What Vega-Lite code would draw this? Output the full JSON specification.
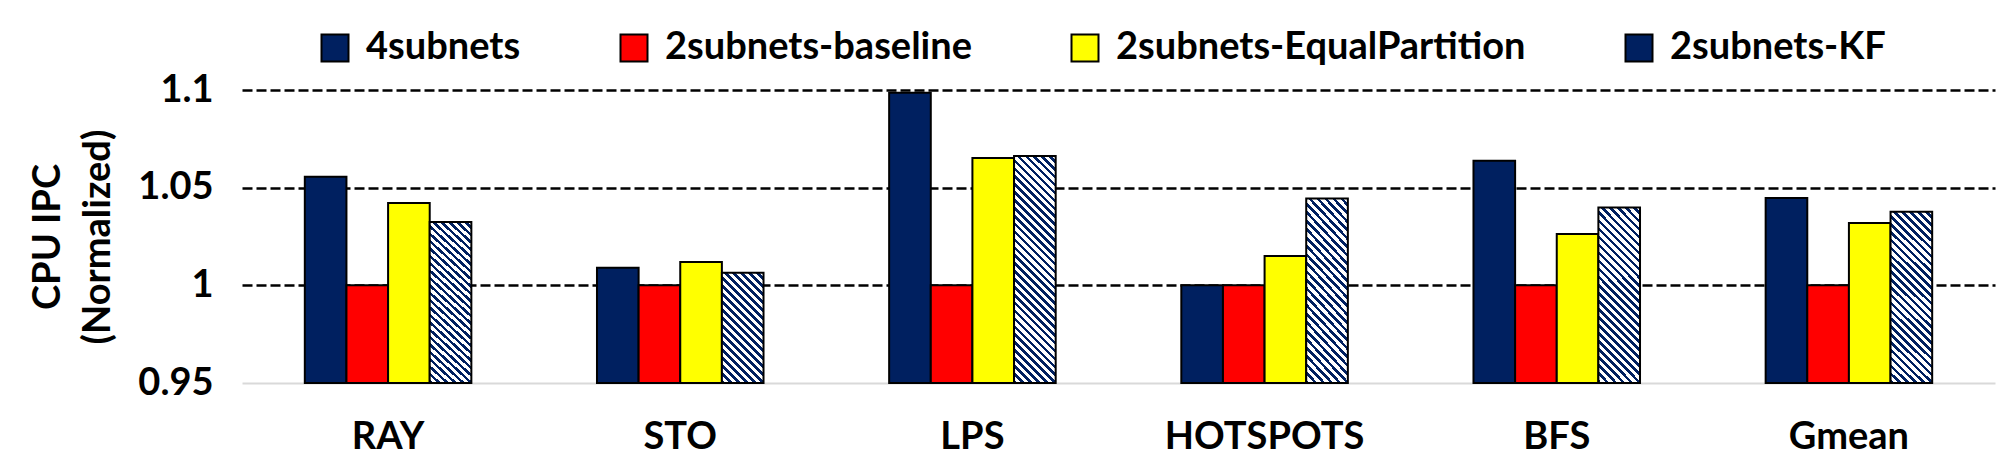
{
  "$schema": "https://vega.github.io/schema/vega-lite/v6.json",
  "width": 1753,
  "height": 293,
  "autosize": "none",
  "padding": {"left": 242, "top": 90, "right": 7, "bottom": 93},
  "background": "white",
  "config": {"font": "Lato", "view": {"stroke": null}},
  "data": {"values": [
    {"benchmark": "RAY", "series": "4subnets", "ipc": 1.0556},
    {"benchmark": "RAY", "series": "2subnets-baseline", "ipc": 1.0},
    {"benchmark": "RAY", "series": "2subnets-EqualPartition", "ipc": 1.0421},
    {"benchmark": "RAY", "series": "2subnets-KF", "ipc": 1.0324},
    {"benchmark": "STO", "series": "4subnets", "ipc": 1.009},
    {"benchmark": "STO", "series": "2subnets-baseline", "ipc": 1.0},
    {"benchmark": "STO", "series": "2subnets-EqualPartition", "ipc": 1.0119},
    {"benchmark": "STO", "series": "2subnets-KF", "ipc": 1.0065},
    {"benchmark": "LPS", "series": "4subnets", "ipc": 1.0986},
    {"benchmark": "LPS", "series": "2subnets-baseline", "ipc": 1.0},
    {"benchmark": "LPS", "series": "2subnets-EqualPartition", "ipc": 1.0652},
    {"benchmark": "LPS", "series": "2subnets-KF", "ipc": 1.0662},
    {"benchmark": "HOTSPOTS", "series": "4subnets", "ipc": 1.0},
    {"benchmark": "HOTSPOTS", "series": "2subnets-baseline", "ipc": 1.0},
    {"benchmark": "HOTSPOTS", "series": "2subnets-EqualPartition", "ipc": 1.015},
    {"benchmark": "HOTSPOTS", "series": "2subnets-KF", "ipc": 1.0444},
    {"benchmark": "BFS", "series": "4subnets", "ipc": 1.0638},
    {"benchmark": "BFS", "series": "2subnets-baseline", "ipc": 1.0},
    {"benchmark": "BFS", "series": "2subnets-EqualPartition", "ipc": 1.0263},
    {"benchmark": "BFS", "series": "2subnets-KF", "ipc": 1.0398},
    {"benchmark": "Gmean", "series": "4subnets", "ipc": 1.0447},
    {"benchmark": "Gmean", "series": "2subnets-baseline", "ipc": 1.0},
    {"benchmark": "Gmean", "series": "2subnets-EqualPartition", "ipc": 1.0319},
    {"benchmark": "Gmean", "series": "2subnets-KF", "ipc": 1.0377}
  ]},
  "mark": {"type": "bar", "stroke": "black", "strokeWidth": 2},
  "encoding": {
    "x": {
      "field": "benchmark", "type": "nominal",
      "scale": {"domain": ["RAY", "STO", "LPS", "HOTSPOTS", "BFS", "Gmean"], "paddingInner": 0.43, "paddingOuter": 0.215},
      "axis": {"title": null, "ticks": false, "domainColor": "#d9d9d9", "domainWidth": 2, "labelFontSize": 38, "labelFontWeight": "bold", "labelColor": "black", "labelPadding": 35, "labelAngle": 0, "labelLimit": 600}
    },
    "xOffset": {
      "field": "series", "type": "nominal",
      "scale": {"domain": ["4subnets", "2subnets-baseline", "2subnets-EqualPartition", "2subnets-KF"], "paddingInner": 0, "paddingOuter": 0}
    },
    "y": {
      "field": "ipc", "type": "quantitative",
      "scale": {"domain": [0.95, 1.1], "zero": false},
      "axis": {
        "values": [0.95, 1, 1.05, 1.1], "format": "~g", "domain": false, "ticks": false, "grid": true,
        "gridColor": {"condition": {"test": "datum.value < 0.96", "value": "transparent"}, "value": "black"},
        "gridDash": [10, 4], "gridWidth": 2.5, "labelFlush": false,
        "labelFontSize": 38, "labelFontWeight": "bold", "labelColor": "black", "labelPadding": 29,
        "title": ["CPU IPC", "(Normalized)"], "titleFontSize": 38, "titleFontWeight": "bold", "titleColor": "black", "titlePadding": 20, "titleLineHeight": 50
      }
    },
    "y2": {"datum": 0.95},
    "fill": {
      "condition": [
        {"test": "datum.series === '2subnets-KF' && datum.ipc < 1.02", "value": {"gradient": "linear", "x1": 0, "y1": 1, "x2": 0.456, "y2": -0.206, "stops": [
          {"offset": 0, "color": "#002060"}, {"offset": 0.0237, "color": "#002060"}, {"offset": 0.0237, "color": "#fff"}, {"offset": 0.0526, "color": "#fff"},
          {"offset": 0.0526, "color": "#002060"}, {"offset": 0.0763, "color": "#002060"}, {"offset": 0.0763, "color": "#fff"}, {"offset": 0.1053, "color": "#fff"},
          {"offset": 0.1053, "color": "#002060"}, {"offset": 0.1289, "color": "#002060"}, {"offset": 0.1289, "color": "#fff"}, {"offset": 0.1579, "color": "#fff"},
          {"offset": 0.1579, "color": "#002060"}, {"offset": 0.1816, "color": "#002060"}, {"offset": 0.1816, "color": "#fff"}, {"offset": 0.2105, "color": "#fff"},
          {"offset": 0.2105, "color": "#002060"}, {"offset": 0.2342, "color": "#002060"}, {"offset": 0.2342, "color": "#fff"}, {"offset": 0.2632, "color": "#fff"},
          {"offset": 0.2632, "color": "#002060"}, {"offset": 0.2868, "color": "#002060"}, {"offset": 0.2868, "color": "#fff"}, {"offset": 0.3158, "color": "#fff"},
          {"offset": 0.3158, "color": "#002060"}, {"offset": 0.3395, "color": "#002060"}, {"offset": 0.3395, "color": "#fff"}, {"offset": 0.3684, "color": "#fff"},
          {"offset": 0.3684, "color": "#002060"}, {"offset": 0.3921, "color": "#002060"}, {"offset": 0.3921, "color": "#fff"}, {"offset": 0.4211, "color": "#fff"},
          {"offset": 0.4211, "color": "#002060"}, {"offset": 0.4447, "color": "#002060"}, {"offset": 0.4447, "color": "#fff"}, {"offset": 0.4737, "color": "#fff"},
          {"offset": 0.4737, "color": "#002060"}, {"offset": 0.4974, "color": "#002060"}, {"offset": 0.4974, "color": "#fff"}, {"offset": 0.5263, "color": "#fff"},
          {"offset": 0.5263, "color": "#002060"}, {"offset": 0.55, "color": "#002060"}, {"offset": 0.55, "color": "#fff"}, {"offset": 0.5789, "color": "#fff"},
          {"offset": 0.5789, "color": "#002060"}, {"offset": 0.6026, "color": "#002060"}, {"offset": 0.6026, "color": "#fff"}, {"offset": 0.6316, "color": "#fff"},
          {"offset": 0.6316, "color": "#002060"}, {"offset": 0.6553, "color": "#002060"}, {"offset": 0.6553, "color": "#fff"}, {"offset": 0.6842, "color": "#fff"},
          {"offset": 0.6842, "color": "#002060"}, {"offset": 0.7079, "color": "#002060"}, {"offset": 0.7079, "color": "#fff"}, {"offset": 0.7368, "color": "#fff"},
          {"offset": 0.7368, "color": "#002060"}, {"offset": 0.7605, "color": "#002060"}, {"offset": 0.7605, "color": "#fff"}, {"offset": 0.7895, "color": "#fff"},
          {"offset": 0.7895, "color": "#002060"}, {"offset": 0.8132, "color": "#002060"}, {"offset": 0.8132, "color": "#fff"}, {"offset": 0.8421, "color": "#fff"},
          {"offset": 0.8421, "color": "#002060"}, {"offset": 0.8658, "color": "#002060"}, {"offset": 0.8658, "color": "#fff"}, {"offset": 0.8947, "color": "#fff"},
          {"offset": 0.8947, "color": "#002060"}, {"offset": 0.9184, "color": "#002060"}, {"offset": 0.9184, "color": "#fff"}, {"offset": 0.9474, "color": "#fff"},
          {"offset": 0.9474, "color": "#002060"}, {"offset": 0.9711, "color": "#002060"}, {"offset": 0.9711, "color": "#fff"}, {"offset": 1, "color": "#fff"}
        ]}},
        {"test": "datum.series === '2subnets-KF' && datum.ipc > 1.06", "value": {"gradient": "linear", "x1": 0, "y1": 1, "x2": 0.2098, "y2": -0.145, "stops": [
          {"offset": 0, "color": "#002060"}, {"offset": 0.0132, "color": "#002060"}, {"offset": 0.0132, "color": "#fff"}, {"offset": 0.0294, "color": "#fff"},
          {"offset": 0.0294, "color": "#002060"}, {"offset": 0.0426, "color": "#002060"}, {"offset": 0.0426, "color": "#fff"}, {"offset": 0.0588, "color": "#fff"},
          {"offset": 0.0588, "color": "#002060"}, {"offset": 0.072, "color": "#002060"}, {"offset": 0.072, "color": "#fff"}, {"offset": 0.0882, "color": "#fff"},
          {"offset": 0.0882, "color": "#002060"}, {"offset": 0.1014, "color": "#002060"}, {"offset": 0.1014, "color": "#fff"}, {"offset": 0.1176, "color": "#fff"},
          {"offset": 0.1176, "color": "#002060"}, {"offset": 0.1308, "color": "#002060"}, {"offset": 0.1308, "color": "#fff"}, {"offset": 0.1471, "color": "#fff"},
          {"offset": 0.1471, "color": "#002060"}, {"offset": 0.1603, "color": "#002060"}, {"offset": 0.1603, "color": "#fff"}, {"offset": 0.1765, "color": "#fff"},
          {"offset": 0.1765, "color": "#002060"}, {"offset": 0.1897, "color": "#002060"}, {"offset": 0.1897, "color": "#fff"}, {"offset": 0.2059, "color": "#fff"},
          {"offset": 0.2059, "color": "#002060"}, {"offset": 0.2191, "color": "#002060"}, {"offset": 0.2191, "color": "#fff"}, {"offset": 0.2353, "color": "#fff"},
          {"offset": 0.2353, "color": "#002060"}, {"offset": 0.2485, "color": "#002060"}, {"offset": 0.2485, "color": "#fff"}, {"offset": 0.2647, "color": "#fff"},
          {"offset": 0.2647, "color": "#002060"}, {"offset": 0.2779, "color": "#002060"}, {"offset": 0.2779, "color": "#fff"}, {"offset": 0.2941, "color": "#fff"},
          {"offset": 0.2941, "color": "#002060"}, {"offset": 0.3073, "color": "#002060"}, {"offset": 0.3073, "color": "#fff"}, {"offset": 0.3235, "color": "#fff"},
          {"offset": 0.3235, "color": "#002060"}, {"offset": 0.3367, "color": "#002060"}, {"offset": 0.3367, "color": "#fff"}, {"offset": 0.3529, "color": "#fff"},
          {"offset": 0.3529, "color": "#002060"}, {"offset": 0.3661, "color": "#002060"}, {"offset": 0.3661, "color": "#fff"}, {"offset": 0.3824, "color": "#fff"},
          {"offset": 0.3824, "color": "#002060"}, {"offset": 0.3956, "color": "#002060"}, {"offset": 0.3956, "color": "#fff"}, {"offset": 0.4118, "color": "#fff"},
          {"offset": 0.4118, "color": "#002060"}, {"offset": 0.425, "color": "#002060"}, {"offset": 0.425, "color": "#fff"}, {"offset": 0.4412, "color": "#fff"},
          {"offset": 0.4412, "color": "#002060"}, {"offset": 0.4544, "color": "#002060"}, {"offset": 0.4544, "color": "#fff"}, {"offset": 0.4706, "color": "#fff"},
          {"offset": 0.4706, "color": "#002060"}, {"offset": 0.4838, "color": "#002060"}, {"offset": 0.4838, "color": "#fff"}, {"offset": 0.5, "color": "#fff"},
          {"offset": 0.5, "color": "#002060"}, {"offset": 0.5132, "color": "#002060"}, {"offset": 0.5132, "color": "#fff"}, {"offset": 0.5294, "color": "#fff"},
          {"offset": 0.5294, "color": "#002060"}, {"offset": 0.5426, "color": "#002060"}, {"offset": 0.5426, "color": "#fff"}, {"offset": 0.5588, "color": "#fff"},
          {"offset": 0.5588, "color": "#002060"}, {"offset": 0.572, "color": "#002060"}, {"offset": 0.572, "color": "#fff"}, {"offset": 0.5882, "color": "#fff"},
          {"offset": 0.5882, "color": "#002060"}, {"offset": 0.6014, "color": "#002060"}, {"offset": 0.6014, "color": "#fff"}, {"offset": 0.6176, "color": "#fff"},
          {"offset": 0.6176, "color": "#002060"}, {"offset": 0.6308, "color": "#002060"}, {"offset": 0.6308, "color": "#fff"}, {"offset": 0.6471, "color": "#fff"},
          {"offset": 0.6471, "color": "#002060"}, {"offset": 0.6603, "color": "#002060"}, {"offset": 0.6603, "color": "#fff"}, {"offset": 0.6765, "color": "#fff"},
          {"offset": 0.6765, "color": "#002060"}, {"offset": 0.6897, "color": "#002060"}, {"offset": 0.6897, "color": "#fff"}, {"offset": 0.7059, "color": "#fff"},
          {"offset": 0.7059, "color": "#002060"}, {"offset": 0.7191, "color": "#002060"}, {"offset": 0.7191, "color": "#fff"}, {"offset": 0.7353, "color": "#fff"},
          {"offset": 0.7353, "color": "#002060"}, {"offset": 0.7485, "color": "#002060"}, {"offset": 0.7485, "color": "#fff"}, {"offset": 0.7647, "color": "#fff"},
          {"offset": 0.7647, "color": "#002060"}, {"offset": 0.7779, "color": "#002060"}, {"offset": 0.7779, "color": "#fff"}, {"offset": 0.7941, "color": "#fff"},
          {"offset": 0.7941, "color": "#002060"}, {"offset": 0.8073, "color": "#002060"}, {"offset": 0.8073, "color": "#fff"}, {"offset": 0.8235, "color": "#fff"},
          {"offset": 0.8235, "color": "#002060"}, {"offset": 0.8367, "color": "#002060"}, {"offset": 0.8367, "color": "#fff"}, {"offset": 0.8529, "color": "#fff"},
          {"offset": 0.8529, "color": "#002060"}, {"offset": 0.8661, "color": "#002060"}, {"offset": 0.8661, "color": "#fff"}, {"offset": 0.8824, "color": "#fff"},
          {"offset": 0.8824, "color": "#002060"}, {"offset": 0.8956, "color": "#002060"}, {"offset": 0.8956, "color": "#fff"}, {"offset": 0.9118, "color": "#fff"},
          {"offset": 0.9118, "color": "#002060"}, {"offset": 0.925, "color": "#002060"}, {"offset": 0.925, "color": "#fff"}, {"offset": 0.9412, "color": "#fff"},
          {"offset": 0.9412, "color": "#002060"}, {"offset": 0.9544, "color": "#002060"}, {"offset": 0.9544, "color": "#fff"}, {"offset": 0.9706, "color": "#fff"},
          {"offset": 0.9706, "color": "#002060"}, {"offset": 0.9838, "color": "#002060"}, {"offset": 0.9838, "color": "#fff"}, {"offset": 1, "color": "#fff"}
        ]}},
        {"test": "datum.series === '2subnets-KF'", "value": {"gradient": "linear", "x1": 0, "y1": 1, "x2": 0.2802, "y2": -0.172, "stops": [
          {"offset": 0, "color": "#002060"}, {"offset": 0.0167, "color": "#002060"}, {"offset": 0.0167, "color": "#fff"}, {"offset": 0.037, "color": "#fff"},
          {"offset": 0.037, "color": "#002060"}, {"offset": 0.0537, "color": "#002060"}, {"offset": 0.0537, "color": "#fff"}, {"offset": 0.0741, "color": "#fff"},
          {"offset": 0.0741, "color": "#002060"}, {"offset": 0.0908, "color": "#002060"}, {"offset": 0.0908, "color": "#fff"}, {"offset": 0.1111, "color": "#fff"},
          {"offset": 0.1111, "color": "#002060"}, {"offset": 0.1278, "color": "#002060"}, {"offset": 0.1278, "color": "#fff"}, {"offset": 0.1481, "color": "#fff"},
          {"offset": 0.1481, "color": "#002060"}, {"offset": 0.1648, "color": "#002060"}, {"offset": 0.1648, "color": "#fff"}, {"offset": 0.1852, "color": "#fff"},
          {"offset": 0.1852, "color": "#002060"}, {"offset": 0.2019, "color": "#002060"}, {"offset": 0.2019, "color": "#fff"}, {"offset": 0.2222, "color": "#fff"},
          {"offset": 0.2222, "color": "#002060"}, {"offset": 0.2389, "color": "#002060"}, {"offset": 0.2389, "color": "#fff"}, {"offset": 0.2593, "color": "#fff"},
          {"offset": 0.2593, "color": "#002060"}, {"offset": 0.276, "color": "#002060"}, {"offset": 0.276, "color": "#fff"}, {"offset": 0.2963, "color": "#fff"},
          {"offset": 0.2963, "color": "#002060"}, {"offset": 0.313, "color": "#002060"}, {"offset": 0.313, "color": "#fff"}, {"offset": 0.3333, "color": "#fff"},
          {"offset": 0.3333, "color": "#002060"}, {"offset": 0.35, "color": "#002060"}, {"offset": 0.35, "color": "#fff"}, {"offset": 0.3704, "color": "#fff"},
          {"offset": 0.3704, "color": "#002060"}, {"offset": 0.3871, "color": "#002060"}, {"offset": 0.3871, "color": "#fff"}, {"offset": 0.4074, "color": "#fff"},
          {"offset": 0.4074, "color": "#002060"}, {"offset": 0.4241, "color": "#002060"}, {"offset": 0.4241, "color": "#fff"}, {"offset": 0.4444, "color": "#fff"},
          {"offset": 0.4444, "color": "#002060"}, {"offset": 0.4611, "color": "#002060"}, {"offset": 0.4611, "color": "#fff"}, {"offset": 0.4815, "color": "#fff"},
          {"offset": 0.4815, "color": "#002060"}, {"offset": 0.4982, "color": "#002060"}, {"offset": 0.4982, "color": "#fff"}, {"offset": 0.5185, "color": "#fff"},
          {"offset": 0.5185, "color": "#002060"}, {"offset": 0.5352, "color": "#002060"}, {"offset": 0.5352, "color": "#fff"}, {"offset": 0.5556, "color": "#fff"},
          {"offset": 0.5556, "color": "#002060"}, {"offset": 0.5723, "color": "#002060"}, {"offset": 0.5723, "color": "#fff"}, {"offset": 0.5926, "color": "#fff"},
          {"offset": 0.5926, "color": "#002060"}, {"offset": 0.6093, "color": "#002060"}, {"offset": 0.6093, "color": "#fff"}, {"offset": 0.6296, "color": "#fff"},
          {"offset": 0.6296, "color": "#002060"}, {"offset": 0.6463, "color": "#002060"}, {"offset": 0.6463, "color": "#fff"}, {"offset": 0.6667, "color": "#fff"},
          {"offset": 0.6667, "color": "#002060"}, {"offset": 0.6834, "color": "#002060"}, {"offset": 0.6834, "color": "#fff"}, {"offset": 0.7037, "color": "#fff"},
          {"offset": 0.7037, "color": "#002060"}, {"offset": 0.7204, "color": "#002060"}, {"offset": 0.7204, "color": "#fff"}, {"offset": 0.7407, "color": "#fff"},
          {"offset": 0.7407, "color": "#002060"}, {"offset": 0.7574, "color": "#002060"}, {"offset": 0.7574, "color": "#fff"}, {"offset": 0.7778, "color": "#fff"},
          {"offset": 0.7778, "color": "#002060"}, {"offset": 0.7945, "color": "#002060"}, {"offset": 0.7945, "color": "#fff"}, {"offset": 0.8148, "color": "#fff"},
          {"offset": 0.8148, "color": "#002060"}, {"offset": 0.8315, "color": "#002060"}, {"offset": 0.8315, "color": "#fff"}, {"offset": 0.8519, "color": "#fff"},
          {"offset": 0.8519, "color": "#002060"}, {"offset": 0.8686, "color": "#002060"}, {"offset": 0.8686, "color": "#fff"}, {"offset": 0.8889, "color": "#fff"},
          {"offset": 0.8889, "color": "#002060"}, {"offset": 0.9056, "color": "#002060"}, {"offset": 0.9056, "color": "#fff"}, {"offset": 0.9259, "color": "#fff"},
          {"offset": 0.9259, "color": "#002060"}, {"offset": 0.9426, "color": "#002060"}, {"offset": 0.9426, "color": "#fff"}, {"offset": 0.963, "color": "#fff"},
          {"offset": 0.963, "color": "#002060"}, {"offset": 0.9797, "color": "#002060"}, {"offset": 0.9797, "color": "#fff"}, {"offset": 1, "color": "#fff"}
        ]}}
      ],
      "field": "series", "type": "nominal",
      "scale": {"domain": ["4subnets", "2subnets-baseline", "2subnets-EqualPartition", "2subnets-KF"], "range": ["#002060", "#ff0000", "#ffff00", "#002060"]},
      "legend": {
        "orient": "none", "legendX": 74, "legendY": -61, "direction": "horizontal", "title": null,
        "symbolType": "square", "symbolSize": 729, "symbolStrokeColor": "black", "symbolStrokeWidth": 2,
        "labelFontSize": 38, "labelFontWeight": "bold", "labelColor": "black", "labelLimit": 1000, "labelOffset": 12, "columnPadding": 94
      }
    }
  }
}
